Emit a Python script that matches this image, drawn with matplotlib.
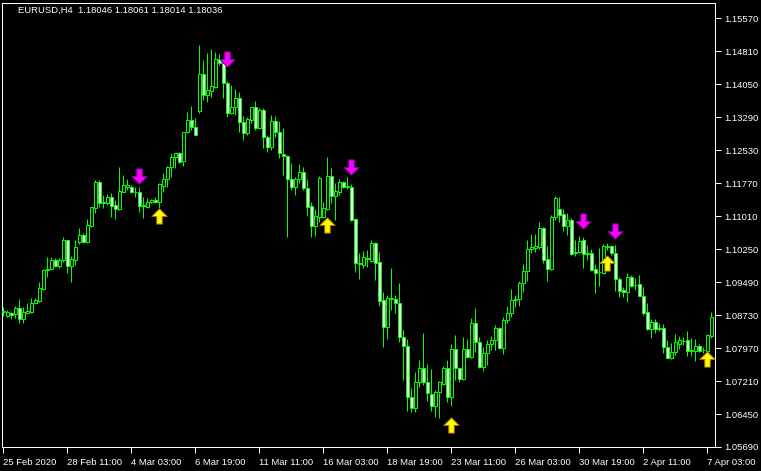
import matplotlib
matplotlib.use("Agg")
import matplotlib.pyplot as plt
from matplotlib.path import Path

# -----------------------
# DATA (EURUSD H4)
# -----------------------
opens = [1.08800, 1.08708, 1.08777, 1.08754, 1.08892, 1.08639, 1.08777, 1.08800, 1.09007, 1.09053,
         1.09330, 1.09767, 1.09790, 1.09997, 1.09859, 1.09997, 1.10458, 1.09859, 1.09997, 1.10412,
         1.10573, 1.10412, 1.10780, 1.11195, 1.11794, 1.11310, 1.11310, 1.11448, 1.11264, 1.11172,
         1.11563, 1.11679, 1.11679, 1.11563, 1.11563, 1.11241, 1.11218, 1.11333, 1.11379, 1.11333,
         1.11701, 1.11863, 1.12139, 1.12369, 1.12461, 1.12277, 1.12945, 1.13221, 1.13060, 1.13429,
         1.14281, 1.13797, 1.13889, 1.13981, 1.14626, 1.14534, 1.14074, 1.13383, 1.13521, 1.13728,
         1.13175, 1.12922, 1.13221, 1.13521, 1.13037, 1.13452, 1.12830, 1.12599, 1.13198, 1.12945,
         1.12438, 1.12392, 1.11863, 1.11679, 1.11863, 1.12024, 1.11656, 1.11241, 1.10780, 1.10988,
         1.10988, 1.11172, 1.11932, 1.11471, 1.11563, 1.11794, 1.11679, 1.11679, 1.10941, 1.09928,
         1.09882, 1.10043, 1.09974, 1.10389, 1.09951, 1.09076, 1.08454, 1.09099, 1.09099, 1.09007,
         1.08224, 1.08016, 1.06842, 1.06589, 1.07188, 1.07510, 1.07188, 1.06911, 1.06635, 1.06957,
         1.07142, 1.07510, 1.06842, 1.07947, 1.07510, 1.07257, 1.07947, 1.07763, 1.08546, 1.08109,
         1.07533, 1.07855, 1.08063, 1.08155, 1.08431, 1.07970, 1.08615, 1.08777, 1.09076, 1.09099,
         1.09468, 1.09744, 1.10250, 1.10273, 1.10296, 1.10734, 1.10020, 1.09790, 1.10988, 1.11172,
         1.11057, 1.10780, 1.10918, 1.10181, 1.10181, 1.10458, 1.10158, 1.10158, 1.09790, 1.09721,
         1.09698, 1.10296, 1.10319, 1.10158, 1.09560, 1.09306, 1.09260, 1.09606, 1.09422, 1.09445,
         1.09168, 1.08800, 1.08408, 1.08569, 1.08431, 1.08431, 1.07993, 1.07740, 1.07878, 1.08063,
         1.08132, 1.08155, 1.07901, 1.07901, 1.08016, 1.07924, 1.07901, 1.08247]
highs = [1.08915, 1.08846, 1.08800, 1.08938, 1.09099, 1.08915, 1.09007, 1.09122, 1.09122, 1.09491,
         1.09790, 1.10066, 1.10066, 1.10043, 1.10043, 1.10527, 1.10458, 1.10089, 1.10458, 1.10734,
         1.10619, 1.10941, 1.11218, 1.11840, 1.11840, 1.11494, 1.11517, 1.11540, 1.11379, 1.12139,
         1.11955, 1.11863, 1.11724, 1.11679, 1.11679, 1.11448, 1.11425, 1.11402, 1.11448, 1.11770,
         1.12001, 1.12162, 1.12461, 1.12461, 1.12484, 1.12945, 1.13406, 1.13544, 1.13267, 1.14949,
         1.14603, 1.14765, 1.14857, 1.14788, 1.14742, 1.14603, 1.14120, 1.14028, 1.13935, 1.13866,
         1.13313, 1.13290, 1.13521, 1.13659, 1.13498, 1.13498, 1.12876, 1.13337, 1.13313, 1.13198,
         1.13037, 1.12415, 1.12231, 1.11909, 1.12208, 1.12139, 1.11863, 1.11333, 1.11172, 1.11932,
         1.11333, 1.12369, 1.12116, 1.11770, 1.11863, 1.11817, 1.11909, 1.11747, 1.10964, 1.10158,
         1.10204, 1.10227, 1.10458, 1.10412, 1.10181, 1.09260, 1.09191, 1.09813, 1.09191, 1.09468,
         1.08385, 1.08178, 1.07049, 1.07418, 1.07694, 1.08316, 1.07602, 1.07487, 1.07003, 1.07211,
         1.07556, 1.07694, 1.08063, 1.08270, 1.07533, 1.08224, 1.08178, 1.08661, 1.08892, 1.08224,
         1.07993, 1.08155, 1.08247, 1.08500, 1.08454, 1.08685, 1.08938, 1.09330, 1.09191, 1.09514,
         1.09905, 1.10458, 1.10596, 1.10596, 1.10872, 1.10757, 1.10319, 1.11034, 1.11471, 1.11448,
         1.11172, 1.11080, 1.10964, 1.10458, 1.10550, 1.10527, 1.10342, 1.10250, 1.09905, 1.10273,
         1.10366, 1.10389, 1.10342, 1.10342, 1.09606, 1.09376, 1.09698, 1.09652, 1.09583, 1.09652,
         1.09376, 1.09007, 1.08639, 1.08639, 1.08546, 1.08523, 1.08155, 1.08086, 1.08293, 1.08247,
         1.08224, 1.08362, 1.08201, 1.08178, 1.08063, 1.07993, 1.08293, 1.08800]
lows = [1.08708, 1.08685, 1.08639, 1.08662, 1.08546, 1.08546, 1.08754, 1.08777, 1.08984, 1.09030,
        1.09306, 1.09606, 1.09767, 1.09836, 1.09813, 1.09951, 1.09698, 1.09491, 1.09882, 1.10366,
        1.10389, 1.10389, 1.10757, 1.11080, 1.11218, 1.11195, 1.11264, 1.10988, 1.10941, 1.11149,
        1.11563, 1.11609, 1.11540, 1.11448, 1.11103, 1.10964, 1.11195, 1.11310, 1.11310, 1.11195,
        1.11563, 1.11679, 1.11909, 1.12116, 1.12231, 1.12162, 1.12922, 1.12991, 1.12876, 1.13383,
        1.13682, 1.13636, 1.13751, 1.13958, 1.14488, 1.13728, 1.13290, 1.13360, 1.13337, 1.12945,
        1.12761, 1.12876, 1.13152, 1.12991, 1.13014, 1.12576, 1.12484, 1.12530, 1.12830, 1.12346,
        1.11955, 1.10527, 1.11609, 1.11494, 1.11770, 1.11609, 1.11011, 1.10527, 1.10550, 1.10872,
        1.10964, 1.11149, 1.11310, 1.10918, 1.11494, 1.11656, 1.11632, 1.10895, 1.09721, 1.09560,
        1.09813, 1.09836, 1.09951, 1.09537, 1.08938, 1.07993, 1.08178, 1.08846, 1.08777, 1.08109,
        1.07234, 1.06520, 1.06497, 1.06497, 1.07072, 1.07119, 1.06750, 1.06520, 1.06381, 1.06358,
        1.07119, 1.06727, 1.06635, 1.07234, 1.07188, 1.07234, 1.07740, 1.07740, 1.07878, 1.07510,
        1.07441, 1.07579, 1.07924, 1.07924, 1.07947, 1.07832, 1.08546, 1.08685, 1.08915, 1.08938,
        1.09260, 1.09514, 1.10158, 1.10181, 1.10250, 1.09928, 1.09514, 1.09767, 1.10918, 1.10872,
        1.10665, 1.10573, 1.10112, 1.10089, 1.10158, 1.09813, 1.09997, 1.09744, 1.09237, 1.09399,
        1.09675, 1.10227, 1.10112, 1.09283, 1.09145, 1.09145, 1.09030, 1.09376, 1.09306, 1.09168,
        1.08731, 1.08385, 1.08201, 1.08316, 1.08362, 1.07855, 1.07740, 1.07717, 1.07809, 1.07947,
        1.08040, 1.07786, 1.07786, 1.07671, 1.07878, 1.07855, 1.07878, 1.08201]
closes = [1.08823, 1.08800, 1.08731, 1.08892, 1.08639, 1.08800, 1.08823, 1.09007, 1.09076, 1.09352,
          1.09767, 1.09790, 1.09997, 1.09859, 1.09997, 1.10458, 1.09859, 1.10020, 1.10296, 1.10573,
          1.10412, 1.10803, 1.11218, 1.11794, 1.11310, 1.11333, 1.11448, 1.11241, 1.11172, 1.11586,
          1.11724, 1.11724, 1.11563, 1.11570, 1.11241, 1.11264, 1.11333, 1.11379, 1.11333, 1.11747,
          1.11863, 1.12139, 1.12369, 1.12461, 1.12254, 1.12945, 1.13221, 1.13060, 1.12876, 1.14281,
          1.13797, 1.13912, 1.14005, 1.14626, 1.14534, 1.14074, 1.13383, 1.13521, 1.13728, 1.13175,
          1.12922, 1.13244, 1.13521, 1.13037, 1.13452, 1.12830, 1.12599, 1.13198, 1.12945, 1.12461,
          1.12392, 1.11863, 1.11679, 1.11863, 1.12024, 1.11656, 1.11218, 1.10780, 1.11011, 1.11886,
          1.11195, 1.11932, 1.11471, 1.11586, 1.11794, 1.11679, 1.11701, 1.10918, 1.09928, 1.09905,
          1.10066, 1.10020, 1.10389, 1.09928, 1.09053, 1.08454, 1.09122, 1.09122, 1.09007, 1.08224,
          1.08016, 1.06842, 1.06589, 1.07188, 1.07510, 1.07188, 1.06934, 1.06635, 1.06957, 1.07188,
          1.07510, 1.06842, 1.07947, 1.07510, 1.07257, 1.07947, 1.07763, 1.08546, 1.08109, 1.07533,
          1.07855, 1.08063, 1.08155, 1.08431, 1.07970, 1.08615, 1.08777, 1.09076, 1.09099, 1.09468,
          1.09744, 1.10250, 1.10296, 1.10319, 1.10734, 1.09997, 1.09790, 1.10988, 1.11425, 1.11034,
          1.10780, 1.10918, 1.10135, 1.10158, 1.10435, 1.10135, 1.10140, 1.09767, 1.09698, 1.09730,
          1.10319, 1.10319, 1.10158, 1.09560, 1.09283, 1.09260, 1.09606, 1.09399, 1.09430, 1.09168,
          1.08777, 1.08408, 1.08569, 1.08408, 1.08408, 1.07993, 1.07740, 1.07878, 1.08109, 1.08155,
          1.08140, 1.07901, 1.07924, 1.08016, 1.07901, 1.07930, 1.08270, 1.08685]

# signal arrows: bar index + price
buy_bars = [39, 81, 112, 151, 176]
buy_prices = [1.11011, 1.10803, 1.06197, 1.09928, 1.07717]
sell_bars = [34, 56, 87, 145, 153]
sell_prices = [1.11932, 1.14626, 1.12139, 1.10895, 1.10665]

price_ticks = [1.15570, 1.14810, 1.14050, 1.13290, 1.12530, 1.11770, 1.11010,
               1.10250, 1.09490, 1.08730, 1.07970, 1.07210, 1.06450, 1.05690]
time_tick_bars = [0, 16, 32, 48, 64, 80, 96, 112, 128, 144, 160, 176]
time_tick_labels = ["25 Feb 2020", "28 Feb 11:00", "4 Mar 03:00", "6 Mar 19:00",
                    "11 Mar 11:00", "16 Mar 03:00", "18 Mar 19:00", "23 Mar 11:00",
                    "26 Mar 03:00", "30 Mar 19:00", "2 Apr 11:00", "7 Apr 03:00"]

# -----------------------
# STYLE
# -----------------------
BG = "black"
CANDLE = "#00FF00"
FG = "white"
FONT = "Liberation Sans"
px = 72 / 100  # one pixel in points

fig = plt.figure(figsize=(7.61, 4.71), dpi=100, facecolor=BG)
ax = fig.add_axes([2 / 761, 24 / 471, 713 / 761, 444 / 471])
ax.set_facecolor(BG)

x = list(range(len(opens)))

# wicks
ax.vlines(x, lows, highs, color=CANDLE, linewidth=px, zorder=2)

# bodies: bull hollow (black), bear white
for i in x:
    o, c = opens[i], closes[i]
    fill = BG if c >= o else FG
    h = abs(c - o)
    if h < 0.00005:
        ax.hlines(o, i - 0.4, i + 0.4, color=CANDLE, linewidth=px, zorder=3)
    else:
        ax.bar(i, h, bottom=min(o, c), width=0.72, color=fill,
               edgecolor=CANDLE, linewidth=px, zorder=3)

# arrow marker
up_arrow = Path([(-0.5, 0.0), (0.0, 0.5), (0.5, 0.0), (0.18, 0.0), (0.18, -0.5),
                 (-0.18, -0.5), (-0.18, 0.0), (-0.5, 0.0)], closed=True)
down_arrow = Path([(vx, -vy) for vx, vy in up_arrow.vertices], closed=True)

ax.plot(buy_bars, buy_prices, linestyle="none", marker=up_arrow, markersize=11,
        markerfacecolor="#FFFF00", markeredgecolor="#B07000", markeredgewidth=0.7, zorder=5)
ax.plot(sell_bars, sell_prices, linestyle="none", marker=down_arrow, markersize=11,
        markerfacecolor="#FF00FF", markeredgecolor="#8000A0", markeredgewidth=0.7, zorder=5)

ax.set_xlim(-0.33, 177.92)
ax.set_ylim(1.05690, 1.15916)

# right-side price scale
ax.yaxis.tick_right()
ax.set_yticks(price_ticks)
ax.set_yticklabels([f"{p:.5f}" for p in price_ticks])
ax.set_xticks(time_tick_bars)
ax.set_xticklabels(time_tick_labels, ha="left")
ax.tick_params(axis="both", colors=FG, labelcolor=FG, labelsize=6.8,
               length=4, width=px, direction="out")
ax.tick_params(axis="x", pad=4)
ax.tick_params(axis="y", pad=3)
for lbl in ax.get_xticklabels() + ax.get_yticklabels():
    lbl.set_fontfamily(FONT)
    lbl.set_color(FG)
for s in ax.spines.values():
    s.set_color(FG)
    s.set_linewidth(px)

fig.text(18 / 761, 1 - 10.5 / 471, "EURUSD,H4  1.18046 1.18061 1.18014 1.18036",
         color=FG, fontsize=6.8, family=FONT, va="center", ha="left")

fig.savefig("out.png", dpi=100, facecolor=BG)
